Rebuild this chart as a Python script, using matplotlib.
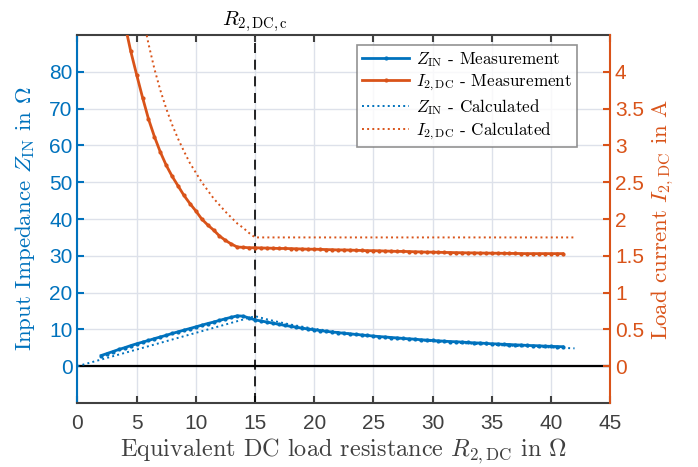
import numpy as np
import matplotlib.pyplot as plt

# measured data (R in Ohm)
r_z_meas = np.arange(2.0, 41.01, 0.5)
z_meas = [2.9, 3.45, 4.0, 4.55, 5.05, 5.6, 6.1, 6.55, 7.0, 7.5,
          7.95, 8.4, 8.9, 9.35, 9.8, 10.25, 10.7, 11.15, 11.6, 12.0,
          12.45, 12.9, 13.3, 13.7, 13.6, 13.1, 12.6, 12.3, 12.0, 11.7,
          11.4, 11.1, 10.85, 10.6, 10.35, 10.1, 9.9, 9.7, 9.5, 9.3,
          9.15, 8.95, 8.8, 8.65, 8.5, 8.35, 8.2, 8.05, 7.95, 7.8,
          7.7, 7.55, 7.45, 7.35, 7.2, 7.1, 7.0, 6.9, 6.8, 6.7,
          6.65, 6.55, 6.45, 6.35, 6.3, 6.2, 6.1, 6.05, 5.95, 5.9,
          5.8, 5.75, 5.65, 5.6, 5.55, 5.45, 5.4, 5.35, 5.3]

r_i_meas = np.arange(4.0, 41.01, 0.5)
i_meas = [4.65, 4.28, 3.96, 3.65, 3.36, 3.12, 2.91, 2.73, 2.58, 2.45,
          2.32, 2.21, 2.11, 2.00, 1.92, 1.85, 1.77, 1.71, 1.66, 1.62,
          1.615, 1.61, 1.61, 1.607, 1.605, 1.603, 1.60, 1.60, 1.598, 1.595,
          1.593, 1.59, 1.59, 1.588, 1.585, 1.583, 1.58, 1.58, 1.578, 1.575,
          1.573, 1.57, 1.57, 1.568, 1.565, 1.563, 1.56, 1.56, 1.558, 1.555,
          1.553, 1.55, 1.55, 1.548, 1.546, 1.545, 1.543, 1.542, 1.54, 1.54,
          1.538, 1.537, 1.536, 1.535, 1.534, 1.533, 1.532, 1.531, 1.53, 1.53,
          1.53, 1.53, 1.53, 1.53, 1.53]

# calculated data
r_z_calc = [0, 15, 16, 17, 18, 19, 20, 22, 24, 26, 28, 30, 32, 34, 36, 38, 40, 42]
z_calc = [0, 13.6, 12.75, 12.0, 11.33, 10.74, 10.2, 9.27, 8.5, 7.85, 7.29,
          6.8, 6.38, 6.0, 5.67, 5.37, 5.1, 4.86]

r_i_calc = [5.5, 6, 6.5, 7, 7.5, 8, 8.5, 9, 9.5, 10, 10.5, 11, 11.5, 12,
            12.5, 13, 13.5, 14, 14.5, 15, 42]
i_calc = [4.77, 4.38, 4.04, 3.75, 3.50, 3.28, 3.09, 2.92, 2.76, 2.63, 2.50,
          2.39, 2.28, 2.19, 2.10, 2.02, 1.94, 1.88, 1.81, 1.75, 1.75]

r_crit = 15

blue = "#0072BD"
orange = "#D95319"
dark = "#404040"

plt.rcParams['mathtext.fontset'] = 'cm'
plt.rcParams['font.family'] = ['Liberation Sans', 'DejaVu Sans']

fig = plt.figure(figsize=(6.98, 4.67), dpi=100)
ax = fig.add_axes([0.111, 0.137, 0.763, 0.788])
ax2 = ax.twinx()

ax.set_xlim(0, 45)
ax.set_ylim(-10, 90)
ax2.set_ylim(-0.5, 4.5)

ax.grid(True, color="#dde1ea", linewidth=1)
ax.set_axisbelow(True)
ax.axhline(0, color="black", linewidth=1.6, zorder=2)
ax.axvline(r_crit, color="black", linewidth=1.2, linestyle=(0, (6, 4)), zorder=2)

l1, = ax.plot(r_z_meas, z_meas, color=blue, linewidth=2, marker='.', markersize=4,
              label=r"$Z_\mathrm{IN}$ - Measurement", zorder=4)
l3, = ax.plot(r_z_calc, z_calc, color=blue, linewidth=1.4, linestyle=':',
              label=r"$Z_\mathrm{IN}$ - Calculated", zorder=3)
l2, = ax2.plot(r_i_meas, i_meas, color=orange, linewidth=2, marker='.', markersize=4,
               label=r"$I_\mathrm{2,DC}$ - Measurement", zorder=4)
l4, = ax2.plot(r_i_calc, i_calc, color=orange, linewidth=1.4, linestyle=':',
               label=r"$I_\mathrm{2,DC}$ - Calculated", zorder=3)

ax.set_xticks(np.arange(0, 46, 5))
ax.set_yticks(np.arange(0, 81, 10))
ax2.set_yticks(np.arange(0, 4.1, 0.5))
ax2.set_yticklabels(["0", "0.5", "1", "1.5", "2", "2.5", "3", "3.5", "4"])

ax.tick_params(axis='x', direction='in', length=5, width=1.5, colors=dark,
               labelsize=15, top=True, pad=8)
ax.tick_params(axis='y', direction='in', length=5, width=1.5, colors=blue,
               labelsize=15)
ax2.tick_params(axis='y', direction='in', length=5, width=1.5, colors=orange,
                labelsize=15)

for s in ["top", "bottom"]:
    ax.spines[s].set_color(dark)
    ax.spines[s].set_linewidth(1.5)
ax.spines["left"].set_color(blue)
ax.spines["left"].set_linewidth(1.5)
ax.spines["right"].set_visible(False)
for s in ["top", "bottom", "left"]:
    ax2.spines[s].set_visible(False)
ax2.spines["right"].set_color(orange)
ax2.spines["right"].set_linewidth(1.5)

ax.set_xlabel(r"Equivalent DC load resistance $R_\mathrm{2,DC}$ in $\Omega$",
              color=dark, fontdict=dict(family="cmr10", size=17.5), labelpad=2)
ax.set_ylabel(r"Input Impedance $Z_\mathrm{IN}$ in $\Omega$", color=blue,
              fontdict=dict(family="cmr10", size=16.5), labelpad=9)
ax2.set_ylabel(r"Load current $I_\mathrm{2,DC}$ in A", color=orange,
               fontdict=dict(family="cmr10", size=16.5), labelpad=4)

ax.text(r_crit, 90.4, r"$R_\mathrm{2,DC,c}$", ha="center", va="bottom",
        fontsize=15, color="black", clip_on=False)

leg = ax2.legend(handles=[l1, l2, l3, l4], loc="upper right",
                 bbox_to_anchor=(0.938, 0.973), borderaxespad=0,
                 prop=dict(family="cmr10", size=12.3),
                 frameon=True, fancybox=False, handlelength=2.75,
                 borderpad=0.3, labelspacing=0.22, handletextpad=0.4)
leg.get_frame().set_edgecolor("#777777")
leg.get_frame().set_linewidth(1.2)

fig.savefig("out.png", dpi=100)
